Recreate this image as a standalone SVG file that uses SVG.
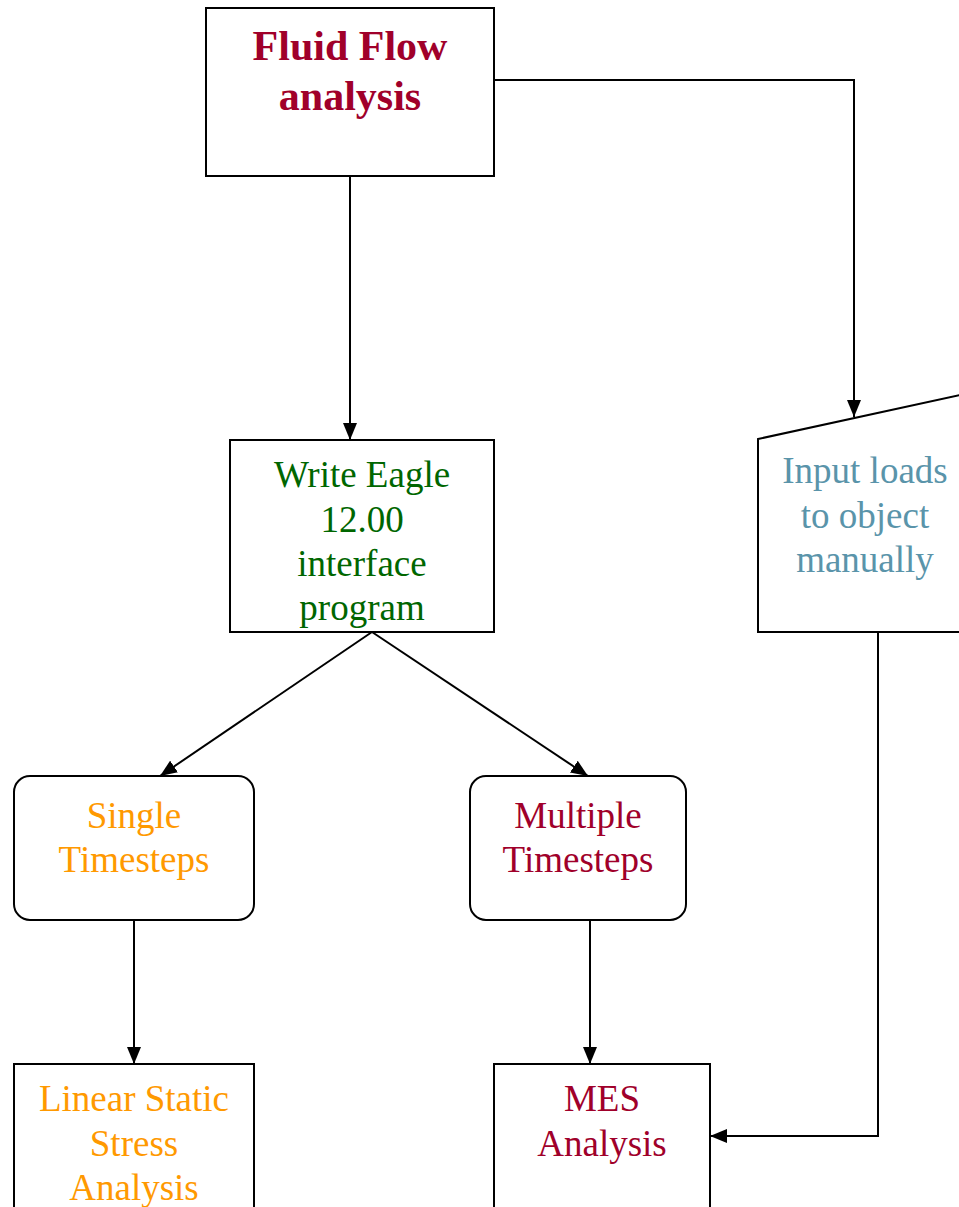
<svg xmlns="http://www.w3.org/2000/svg" width="959" height="1207" viewBox="0 0 959 1207">
<style>
.box{fill:#ffffff;stroke:#000000;stroke-width:2}
.t{font-family:"Liberation Serif","Times New Roman",serif;font-size:37px;text-anchor:middle}
.b{font-weight:bold;font-size:42px}
.red{fill:#a0002a}
.green{fill:#006600}
.orange{fill:#ff9900}
.blue{fill:#5a94aa}
.c{fill:none;stroke:#000000;stroke-width:2}
</style>
<defs>
<marker id="arr" markerWidth="17" markerHeight="14" refX="17" refY="7" orient="auto" markerUnits="userSpaceOnUse">
<path d="M0,0 L17,7 L0,14 Z" fill="#000000"/>
</marker>
</defs>
<rect width="959" height="1207" fill="#ffffff"/>
<g id="fluid">
<rect class="box" x="206" y="8" width="288" height="168"/>
<text class="t b red" x="350" y="60">Fluid Flow</text>
<text class="t b red" x="350" y="110">analysis</text>
</g>
<g id="eagle">
<rect class="box" x="230" y="440" width="264" height="192"/>
<text class="t green" x="362" y="487">Write Eagle</text>
<text class="t green" x="362" y="532">12.00</text>
<text class="t green" x="362" y="576">interface</text>
<text class="t green" x="362" y="620">program</text>
</g>
<g id="input">
<path class="box" d="M758,439 L960,395 L960,632 L758,632 Z"/>
<text class="t blue" x="865" y="483">Input loads</text>
<text class="t blue" x="865" y="528">to object</text>
<text class="t blue" x="865" y="572">manually</text>
</g>
<g id="single">
<rect class="box" x="14" y="776" width="240" height="144" rx="16"/>
<text class="t orange" x="134" y="828">Single</text>
<text class="t orange" x="134" y="872">Timesteps</text>
</g>
<g id="multiple">
<rect class="box" x="470" y="776" width="216" height="144" rx="16"/>
<text class="t red" x="578" y="828">Multiple</text>
<text class="t red" x="578" y="872">Timesteps</text>
</g>
<g id="linear">
<rect class="box" x="14" y="1064" width="240" height="160"/>
<text class="t orange" x="134" y="1111">Linear Static</text>
<text class="t orange" x="134" y="1156">Stress</text>
<text class="t orange" x="134" y="1200">Analysis</text>
</g>
<g id="mes">
<rect class="box" x="494" y="1064" width="216" height="160"/>
<text class="t red" x="602" y="1111">MES</text>
<text class="t red" x="602" y="1156">Analysis</text>
</g>
<g id="connectors">
<path class="c" d="M350,176 L350,440" marker-end="url(#arr)"/>
<path class="c" d="M494,80 L854,80 L854,417" marker-end="url(#arr)"/>
<path class="c" d="M372,632 L160,776" marker-end="url(#arr)"/>
<path class="c" d="M372,632 L588,776" marker-end="url(#arr)"/>
<path class="c" d="M134,920 L134,1064" marker-end="url(#arr)"/>
<path class="c" d="M590,920 L590,1064" marker-end="url(#arr)"/>
<path class="c" d="M878,632 L878,1136 L710,1136" marker-end="url(#arr)"/>
</g>
</svg>
